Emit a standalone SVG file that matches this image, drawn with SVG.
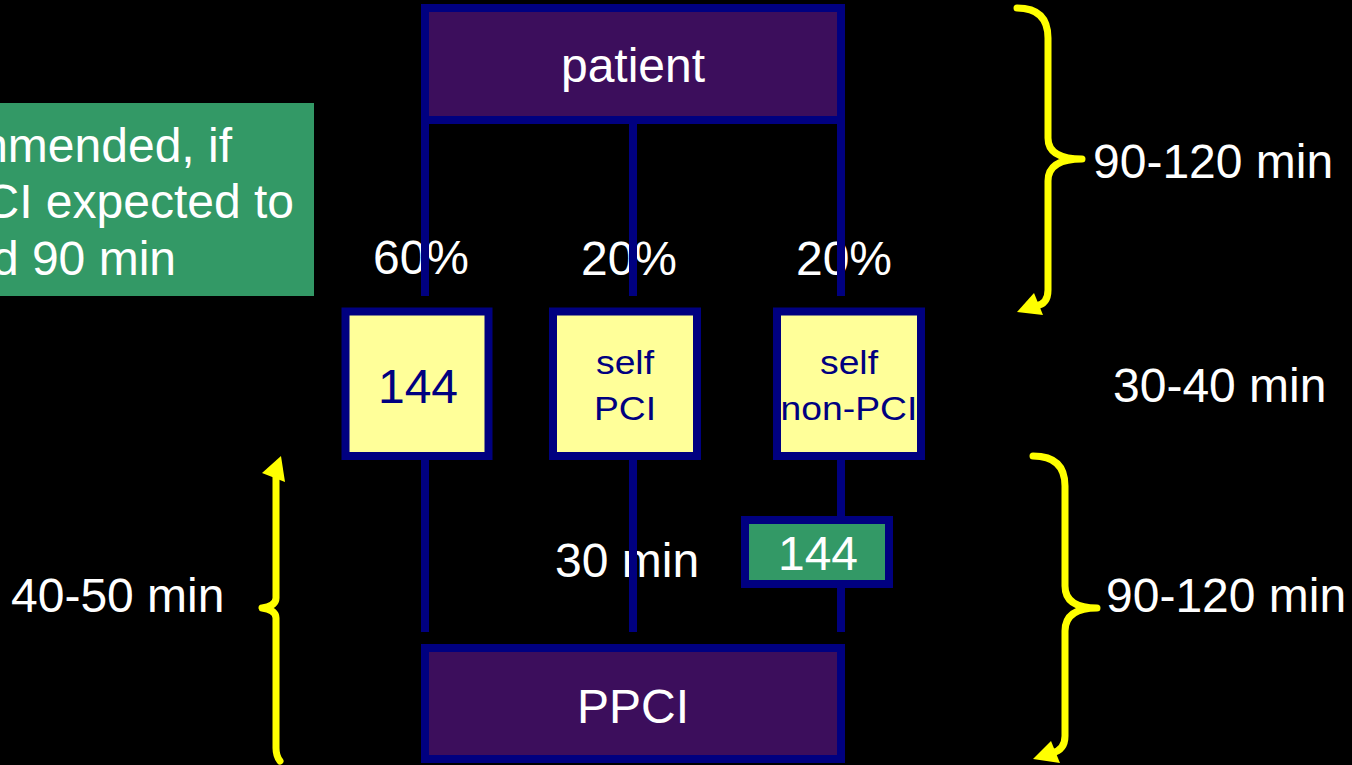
<svg xmlns="http://www.w3.org/2000/svg" width="1352" height="765" viewBox="0 0 1352 765">
  <style>
    .t { font-family: "Liberation Sans", Arial, sans-serif; font-size: 48px; fill: #ffffff; }
    .mid { text-anchor: middle; }
    .end { text-anchor: end; }
    .small { font-size: 33px; fill: #000080; }
    .dark { fill: #000080; }
    .big { fill: #3C0E5C; stroke: #000080; stroke-width: 8; }
    .pale { fill: #FFFF99; stroke: #000080; stroke-width: 8; }
    .green { fill: #339966; stroke: #000080; stroke-width: 8; }
    .link { stroke: #000080; stroke-width: 8; fill: none; }
    .brace { stroke: #FFFF00; stroke-width: 7; fill: none; stroke-linecap: round; stroke-linejoin: round; }
    .head { fill: #FFFF00; }
  </style>
  <rect x="0" y="0" width="1352" height="765" fill="#000000"/>

  <!-- labels that the vertical links run across -->
  <g id="share-labels">
    <text class="t mid" x="421" y="274">60%</text>
    <text class="t mid" x="629" y="275">20%</text>
    <text class="t mid" x="844" y="275">20%</text>
    <text class="t" x="555" y="577">30 min</text>
  </g>

  <!-- connectors -->
  <g id="connectors">
    <line class="link" x1="425" y1="120" x2="425" y2="296"/>
    <line class="link" x1="633" y1="120" x2="633" y2="296"/>
    <line class="link" x1="841" y1="120" x2="841" y2="296"/>
    <line class="link" x1="425" y1="458" x2="425" y2="632"/>
    <line class="link" x1="633" y1="458" x2="633" y2="632"/>
    <line class="link" x1="841" y1="458" x2="841" y2="632"/>
  </g>

  <!-- note panel, left -->
  <g id="note">
    <rect x="-10" y="103" width="324" height="193" fill="#339966"/>
    <text class="t end" x="232" y="162">mmended, if</text>
    <text class="t end" x="294" y="218">CI expected to</text>
    <text class="t end" x="176" y="275">d 90 min</text>
  </g>

  <g id="patient">
    <rect class="big" x="425" y="8" width="416" height="112"/>
    <text class="t mid" x="633" y="82">patient</text>
  </g>

  <g id="ems">
    <rect class="pale" x="345.5" y="311.5" width="143" height="144.5"/>
    <text class="t mid dark" x="418" y="403">144</text>
  </g>

  <g id="self-pci">
    <rect class="pale" x="553" y="311.5" width="144" height="144.5"/>
    <g transform="translate(625,0) scale(1.13,1)">
      <text class="t mid small" x="0" y="374">self</text>
      <text class="t mid small" x="0" y="420">PCI</text>
    </g>
  </g>

  <g id="self-non-pci">
    <rect class="pale" x="777" y="311.5" width="144" height="144.5"/>
    <g transform="translate(849,0) scale(1.13,1)">
      <text class="t mid small" x="0" y="374">self</text>
      <text class="t mid small" x="0" y="420">non-PCI</text>
    </g>
  </g>

  <g id="transfer">
    <rect class="green" x="745" y="520" width="144" height="64"/>
    <text class="t mid" x="818" y="570">144</text>
  </g>

  <g id="ppci">
    <rect class="big" x="425" y="648" width="416" height="111"/>
    <text class="t mid" x="633" y="723">PPCI</text>
  </g>

  <!-- time braces -->
  <g id="brace-top">
    <path class="brace" d="M1017,8 Q1048,8 1048,38 L1048,138 Q1048,159 1082,159 Q1048,159 1048,181 L1048,290 Q1048,304 1036,306"/>
    <polygon class="head" points="1017,312 1034,293 1043,315"/>
    <text class="t" x="1093" y="178">90-120 min</text>
  </g>

  <text class="t" x="1113" y="402">30-40 min</text>

  <g id="brace-bottom">
    <path class="brace" d="M1033,456 Q1065,456 1065,486 L1065,586 Q1065,608 1097,608 Q1065,608 1065,631 L1065,736 Q1065,750 1052,753"/>
    <polygon class="head" points="1033,759 1051,741 1060,763"/>
    <text class="t" x="1106" y="612">90-120 min</text>
  </g>

  <g id="brace-left">
    <path class="brace" d="M276,474 L276,598 Q276,606 262,608 Q276,610 276,618 L276,748 Q276,756 280,761"/>
    <polygon class="head" points="281,456 262,473 285,482"/>
    <text class="t" x="11" y="612">40-50 min</text>
  </g>
</svg>
